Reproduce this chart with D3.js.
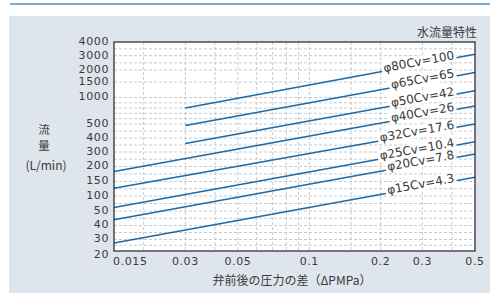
<!DOCTYPE html>
<html>
<head>
<meta charset="utf-8">
<script src="https://cdn.jsdelivr.net/npm/d3@7"></script>
<style>
    body { margin: 0; background: #fff; }
    text { font-family: "DejaVu Sans", sans-serif; fill: #3a3a3a; }
    .jp { font-family: "Noto Sans CJK JP", sans-serif; }
</style>
</head>
<body>
<div id="chart"></div>
<script>
'use strict';

// axis ticks
const xTicks = [0.015, 0.03, 0.05, 0.1, 0.2, 0.3, 0.5];
const xGrid = [0.02, 0.03, 0.04, 0.05, 0.06, 0.07, 0.08, 0.09, 0.1, 0.15, 0.2, 0.3, 0.4];
const yTicks = [20, 30, 40, 50, 100, 150, 200, 300, 400, 500, 1000, 1500, 2000, 3000, 4000];
const yMinor = [25, 35, 45, 75, 125, 175, 250, 350, 450, 600, 700, 800, 900, 2500, 3500];

// one line per valve size
const sizes = ["φ80", "φ65", "φ50", "φ40", "φ32", "φ25", "φ20", "φ15"];
const cvValues = [100, 65, 42, 26, 17.6, 10.4, 7.8, 4.3];
const startPressure = [0.03, 0.03, 0.03, 0.015, 0.015, 0.015, 0.015, 0.015];
const startFlow = [800, 490, 360, 183, 127, 62, 44, 27];
const endPressure = [0.5, 0.5, 0.5, 0.5, 0.5, 0.5, 0.5, 0.5];
const endFlow = [3100, 1900, 1220, 840, 500, 374, 286, 164];

const W = 490, H = 293;
const plotLeft = 114, plotRight = 475, plotTop = 42, plotBottom = 251;

const svg = d3.select("#chart").append("svg")
    .attr("width", W)
    .attr("height", H);

// header rule and panel
svg.append("line")
    .attr("x1", 10).attr("x2", W).attr("y1", 4).attr("y2", 4)
    .attr("stroke", "#4a8cc4").attr("stroke-width", 1.5);

svg.append("rect")
    .attr("x", 9).attr("y", 16).attr("width", W - 9).attr("height", H - 16)
    .attr("fill", "#dfe5ec");

svg.append("rect")
    .attr("x", plotLeft).attr("y", plotTop)
    .attr("width", plotRight - plotLeft).attr("height", plotBottom - plotTop)
    .attr("fill", "#fff");

const x = d3.scaleLog()
    .domain([0.015, 0.5])
    .range([plotLeft, plotRight]);

// the printed flow axis is not a true log scale: ticks sit at these heights
const y = d3.scaleLinear()
    .domain(yTicks)
    .range([251, 239.5, 225.5, 211, 196, 181.5, 166.5, 152, 138, 124, 97.5, 82, 70, 55.7, 42]);

// grid
const grid = svg.append("g")
    .attr("stroke", "#bdbdbd")
    .attr("stroke-width", 0.8)
    .attr("stroke-dasharray", "3,2");

grid.selectAll(".vg")
    .data(xGrid)
    .enter()
    .append("line")
    .attr("class", "vg")
    .attr("x1", d => x(d)).attr("x2", d => x(d))
    .attr("y1", plotTop).attr("y2", plotBottom);

grid.selectAll(".hg")
    .data(yTicks.concat(yMinor).filter(d => d > 20 && d < 4000))
    .enter()
    .append("line")
    .attr("class", "hg")
    .attr("x1", plotLeft).attr("x2", plotRight)
    .attr("y1", d => y(d)).attr("y2", d => y(d));

// flow lines
const lines = sizes.map((s, i) => ({
    label: s + "Cv=" + cvValues[i],
    x0: x(startPressure[i]), y0: y(startFlow[i]),
    x1: x(endPressure[i]), y1: y(endFlow[i])
}));

svg.selectAll(".flow")
    .data(lines)
    .enter()
    .append("line")
    .attr("class", "flow")
    .attr("x1", d => d.x0).attr("y1", d => d.y0)
    .attr("x2", d => d.x1).attr("y2", d => d.y1)
    .attr("stroke", "#1b6aa7")
    .attr("stroke-width", 1.5);

// labels along the lines, on a white patch that breaks the line
const labelEnd = x(0.41);
const labels = svg.selectAll(".lab")
    .data(lines)
    .enter()
    .append("g")
    .attr("class", "lab")
    .attr("transform", d => {
        const t = (labelEnd - d.x0) / (d.x1 - d.x0);
        const py = d.y0 + t * (d.y1 - d.y0);
        const ang = Math.atan2(d.y1 - d.y0, d.x1 - d.x0) * 180 / Math.PI;
        return "translate(" + labelEnd + "," + py + ") rotate(" + ang + ")";
    });

labels.append("text")
    .attr("text-anchor", "end")
    .attr("y", 1)
    .style("font-size", "12px")
    .text(d => d.label);

labels.insert("rect", "text")
    .attr("x", function () { return -this.nextSibling.getComputedTextLength() - 2; })
    .attr("y", -9)
    .attr("width", function () { return this.nextSibling.getComputedTextLength() + 4; })
    .attr("height", 12)
    .attr("fill", "#fff");

// frame
svg.append("rect")
    .attr("x", plotLeft).attr("y", plotTop)
    .attr("width", plotRight - plotLeft).attr("height", plotBottom - plotTop)
    .attr("fill", "none")
    .attr("stroke", "#222")
    .attr("stroke-width", 1.2);

// tick labels (the bottom one sits a little under the frame, as printed)
svg.selectAll(".yt")
    .data(yTicks)
    .enter()
    .append("text")
    .attr("class", "yt")
    .attr("x", 109)
    .attr("y", (d, i) => y(d) + (i === 0 ? 3 : -1))
    .attr("dy", "0.35em")
    .attr("text-anchor", "end")
    .style("font-size", "11px")
    .style("letter-spacing", "0.6px")
    .text(d => d);

svg.selectAll(".xt")
    .data(xTicks)
    .enter()
    .append("text")
    .attr("class", "xt")
    .attr("x", (d, i) => i === 0 ? x(d) - 1 : x(d))
    .attr("y", 261)
    .attr("dy", "0.35em")
    .attr("text-anchor", (d, i) => i === 0 ? "start" : "middle")
    .style("font-size", "11px")
    .style("letter-spacing", "0.6px")
    .text(d => d);

// titles
svg.append("text")
    .attr("class", "jp")
    .attr("x", 477).attr("y", 33).attr("dy", "0.35em")
    .attr("text-anchor", "end")
    .style("font-size", "12px")
    .text("水流量特性");

svg.append("text")
    .attr("class", "jp")
    .attr("x", 44).attr("y", 130).attr("dy", "0.35em")
    .attr("text-anchor", "middle")
    .style("font-size", "11.5px")
    .text("流");

svg.append("text")
    .attr("class", "jp")
    .attr("x", 44).attr("y", 146).attr("dy", "0.35em")
    .attr("text-anchor", "middle")
    .style("font-size", "11.5px")
    .text("量");

svg.append("text")
    .attr("class", "jp")
    .attr("x", 46).attr("y", 166).attr("dy", "0.35em")
    .attr("text-anchor", "middle")
    .style("font-size", "12px")
    .text("(L/min)");

svg.append("text")
    .attr("class", "jp")
    .attr("x", 292).attr("y", 281).attr("dy", "0.35em")
    .attr("text-anchor", "middle")
    .style("font-size", "12px")
    .text("弁前後の圧力の差（ΔPMPa）");
</script>
</body>
</html>
